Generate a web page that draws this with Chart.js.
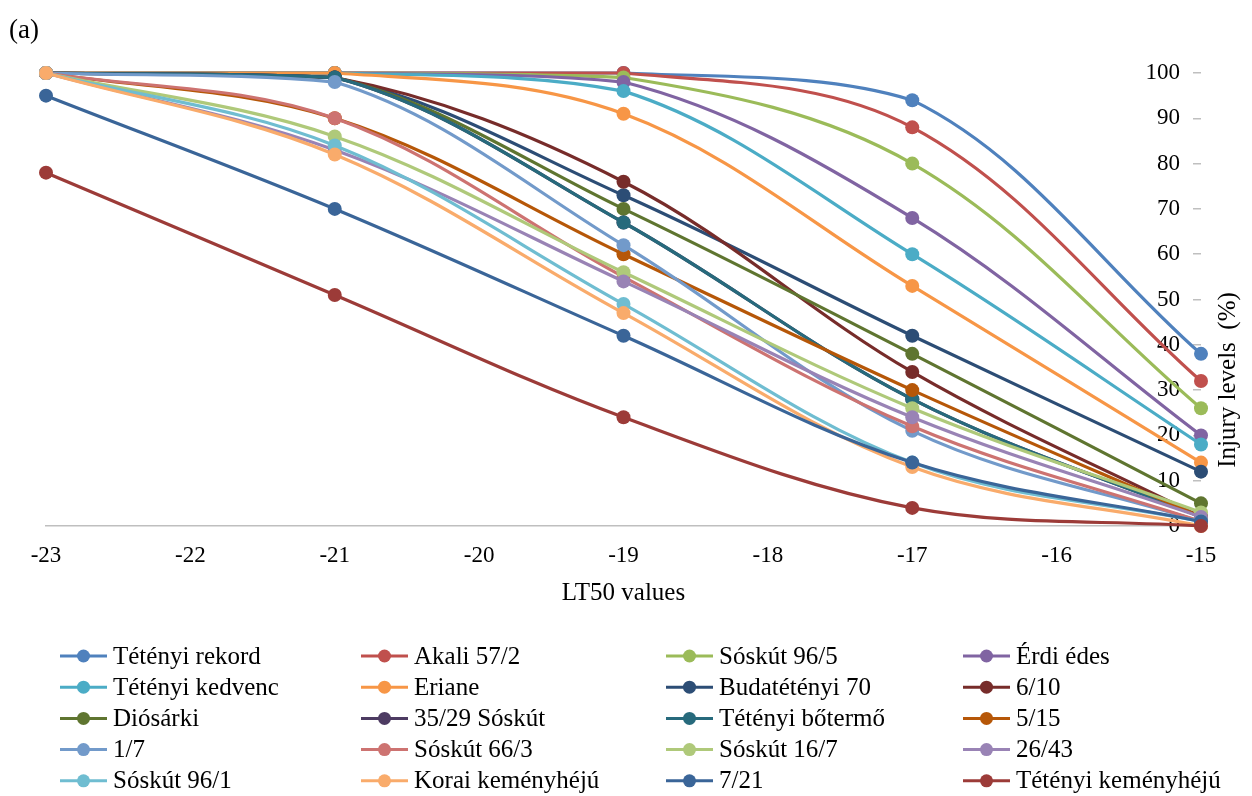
<!DOCTYPE html>
<html>
<head>
<meta charset="utf-8">
<title>LT50 injury levels</title>
<script src="https://cdn.jsdelivr.net/npm/chart.js@4.4.1/dist/chart.umd.min.js"></script>
<style>
  html, body { margin: 0; padding: 0; background: #fff; }
  #wrap { width: 1252px; height: 796px; }
</style>
</head>
<body>
<div id="wrap"><canvas id="chart" width="1252" height="796"></canvas></div>
<script>
// temperatures (°C) where injury was scored
const temps = [-23, -21, -19, -17, -15]
const xTicks = [-23, -22, -21, -20, -19, -18, -17, -16, -15]

// injury levels (%) per cultivar, one value per temperature
const tetenyiRekord = [100, 100, 100, 94, 38]
const akali572 = [100, 100, 100, 88, 32]
const soskut965 = [100, 100, 99, 80, 26]
const erdiEdes = [100, 100, 98, 68, 20]
const tetenyiKedvenc = [100, 100, 96, 60, 18]
const eriane = [100, 100, 91, 53, 14]
const budatetenyi70 = [100, 99, 73, 42, 12]
const c610 = [100, 99, 76, 34, 2]
const diosarki = [100, 99, 70, 38, 5]
const c3529Soskut = [100, 99, 67, 28, 2]
const tetenyiBotermo = [100, 99, 67, 28, 2]
const c515 = [100, 90, 60, 30, 2]
const c17 = [100, 98, 62, 21, 1]
const soskut663 = [100, 90, 55, 22, 1]
const soskut167 = [100, 86, 56, 26, 3]
const c2643 = [100, 83, 54, 24, 2]
const soskut961 = [100, 84, 49, 14, 1]
const koraiKemenyheju = [100, 82, 47, 13, 0]
const c721 = [95, 70, 42, 14, 1]
const tetenyiKemenyheju = [78, 51, 24, 4, 0]

const names = [
  'Tétényi rekord', 'Akali 57/2', 'Sóskút 96/5', 'Érdi édes',
  'Tétényi kedvenc', 'Eriane', 'Budatétényi 70', '6/10',
  'Diósárki', '35/29 Sóskút', 'Tétényi bőtermő', '5/15',
  '1/7', 'Sóskút 66/3', 'Sóskút 16/7', '26/43',
  'Sóskút 96/1', 'Korai keményhéjú', '7/21', 'Tétényi keményhéjú'
]
const series = [
  tetenyiRekord, akali572, soskut965, erdiEdes,
  tetenyiKedvenc, eriane, budatetenyi70, c610,
  diosarki, c3529Soskut, tetenyiBotermo, c515,
  c17, soskut663, soskut167, c2643,
  soskut961, koraiKemenyheju, c721, tetenyiKemenyheju
]
const colors = [
  '#4F81BD', '#C0504D', '#9BBB59', '#8064A2',
  '#4BACC6', '#F79646', '#2C4D75', '#772C2A',
  '#5F7530', '#4D3B62', '#276A7C', '#B65708',
  '#729ACA', '#CD7371', '#AFC97A', '#9983B5',
  '#6FBDD1', '#F9AB6B', '#3A6598', '#9C3B38'
]

const serif = 'Liberation Serif, Times New Roman, serif'

// "(a)" tag, rotated y title and the 4-column legend under the plot
const extras = {
  id: 'extras',
  afterDraw(chart) {
    const ctx = chart.ctx
    const area = chart.chartArea
    ctx.save()
    ctx.fillStyle = '#000'
    ctx.textBaseline = 'middle'

    ctx.font = '27px ' + serif
    ctx.textAlign = 'left'
    ctx.fillText('(a)', 9, 31)

    ctx.save()
    ctx.translate(area.right + 27, 380)
    ctx.rotate(-Math.PI / 2)
    ctx.textAlign = 'center'
    ctx.font = '25px ' + serif
    ctx.fillText('Injury levels  (%)', 0, 0)
    ctx.restore()

    // legend
    const colX = [60, 361, 666, 963]
    const rowY0 = 656
    const rowH = 31.2
    ctx.font = '25px ' + serif
    ctx.textAlign = 'left'
    chart.data.datasets.forEach((ds, i) => {
      const x = colX[i % 4]
      const y = rowY0 + Math.floor(i / 4) * rowH
      ctx.strokeStyle = ds.borderColor
      ctx.lineWidth = 3
      ctx.beginPath()
      ctx.moveTo(x, y)
      ctx.lineTo(x + 47, y)
      ctx.stroke()
      ctx.fillStyle = ds.borderColor
      ctx.beginPath()
      ctx.arc(x + 23.5, y, 6.5, 0, Math.PI * 2)
      ctx.fill()
      ctx.fillStyle = '#000'
      ctx.fillText(ds.label, x + 53, y + 1)
    })
    ctx.restore()
  }
}

const datasets = series.map((vals, i) => ({
  label: names[i],
  data: vals.map((v, j) => ({ x: temps[j], y: v })),
  borderColor: colors[i],
  backgroundColor: colors[i],
  pointBackgroundColor: colors[i],
  pointBorderWidth: 0,
  pointRadius: 7,
  borderWidth: 3.2,
  tension: 0.35,
  clip: false,
  // later series sit on top
  order: series.length - i
}))

new Chart(document.getElementById('chart'), {
  type: 'line',
  data: { datasets },
  options: {
    responsive: false,
    animation: false,
    layout: { padding: { left: 46, right: 0, top: 73, bottom: 186 } },
    plugins: {
      legend: { display: false },
      tooltip: { enabled: false }
    },
    scales: {
      x: {
        type: 'linear',
        min: -23,
        max: -15,
        afterBuildTicks: scale => { scale.ticks = xTicks.map(v => ({ value: v })) },
        grid: { display: false, drawTicks: false },
        border: { color: '#BFBFBF', width: 1.5 },
        ticks: {
          padding: 16,
          color: '#000',
          font: { family: serif, size: 23 },
          maxRotation: 0
        },
        title: {
          display: true,
          text: 'LT50 values',
          color: '#000',
          font: { family: serif, size: 25 },
          padding: { top: -7.6, bottom: 2 }
        }
      },
      y: {
        position: 'right',
        min: 0,
        max: 100,
        ticks: {
          stepSize: 10,
          mirror: true,
          padding: -21,
          color: '#000',
          font: { family: serif, size: 23 }
        },
        grid: { drawOnChartArea: false, drawTicks: true, tickLength: -8, color: '#BFBFBF', lineWidth: 1.5 },
        border: { display: false },
        afterFit: scale => { scale.width = 51 }
      }
    }
  },
  plugins: [extras]
})
</script>
</body>
</html>
